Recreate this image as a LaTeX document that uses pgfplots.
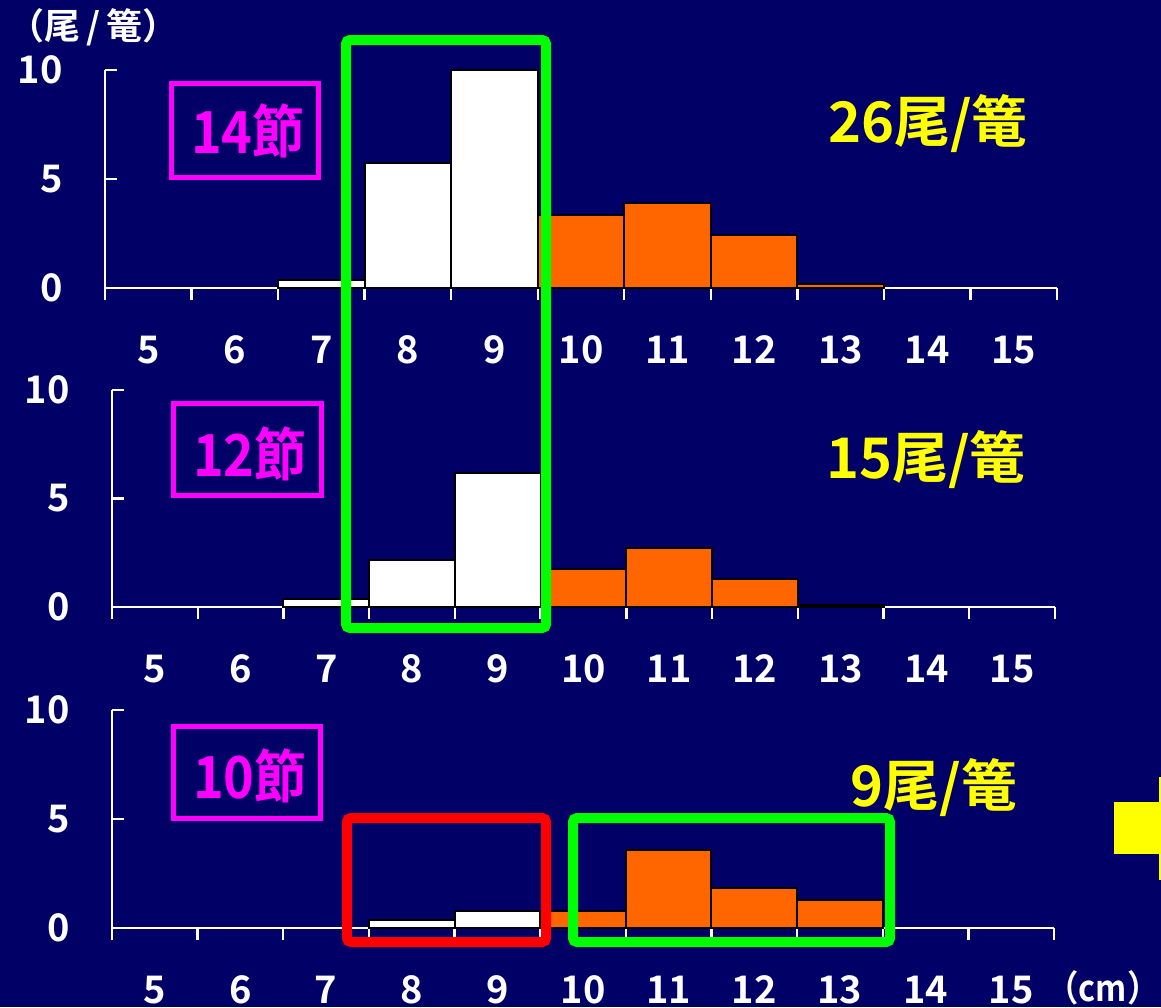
\documentclass[border=0pt]{standalone}
\usepackage{pgfplots}
\pgfplotsset{compat=1.18}
\usepackage{graphicx}
\usepackage{fontspec}
\setmainfont{Noto Sans CJK JP}[BoldFont={* Bold}]
\definecolor{bg}{RGB}{0,0,102}
\definecolor{barorange}{RGB}{255,102,0}
\definecolor{boxgreen}{RGB}{0,255,0}
\definecolor{boxmag}{RGB}{255,0,255}
\definecolor{lblyellow}{RGB}{255,255,0}
\pgfplotsset{
  panel/.style={
    scale only axis,
    anchor=south west,
    xmin=4.5, xmax=15.5, ymin=0, ymax=10,
    axis x line=bottom, axis y line=left,
    axis line style={white, line width=1.2pt, -},
    every tick/.style={white, line width=1.2pt},
    tick align=inside,
    major tick length=6pt,
    xtick={4.5,5.5,...,15.5},
    xticklabels={},
    x tick style={yshift=-6pt},
    extra x ticks={5,6,7,8,9,10,11,12,13,14,15},
    extra x tick style={major tick length=0pt, tick style={draw=none},
      xticklabel style={anchor=center, yshift=-31pt}},
    ytick={0,5,10},
    yticklabel style={anchor=east, inner sep=0pt, xshift=-21pt},
    ticklabel style={font=\fontsize{19}{19}\selectfont\bfseries, text=white},
    /pgf/number format/assume math mode=true,
    clip=false,
  },
  wbar/.style={ybar, bar width=1, bar shift=0pt, fill=white, draw=black, line width=1pt},
  obar/.style={ybar, bar width=1, bar shift=0pt, fill=barorange, draw=black, line width=1pt},
}
\begin{document}
\begin{tikzpicture}
\fill[bg] (0,0) rectangle (580.5pt,-503.5pt);
\path[use as bounding box] (0,0) rectangle (580.5pt,-503.5pt);

% top panel
\begin{axis}[panel, at={(52.5pt,-144pt)}, width=476pt, height=109pt]
\addplot[wbar] coordinates {(7,0.37) (8,5.73) (9,10)};
\addplot[obar] coordinates {(10,3.35) (11,3.9) (12,2.43) (13,0.18)};
\end{axis}

% middle panel
\begin{axis}[panel, at={(56pt,-303.5pt)}, width=471.5pt, height=108.5pt]
\addplot[wbar] coordinates {(7,0.35) (8,2.17) (9,6.17)};
\addplot[obar] coordinates {(10,1.75) (11,2.7) (12,1.29) (13,0.09)};
\end{axis}

% bottom panel
\begin{axis}[panel, at={(56pt,-464pt)}, width=471pt, height=109pt]
\addplot[wbar] coordinates {(8,0.37) (9,0.78)};
\addplot[obar] coordinates {(10,0.78) (11,3.6) (12,1.83) (13,1.28)};
\end{axis}

\begin{scope}[x=0.5pt, y=-0.5pt]
% overlay boxes
\draw[boxgreen, line width=5pt, rounded corners=2pt] (346,40) rectangle (546,628);
\draw[red, line width=5pt, rounded corners=2pt] (347,818) rectangle (546,942);
\draw[boxgreen, line width=5pt, rounded corners=2pt] (573,818) rectangle (890,942);
% magenta boxes
\draw[boxmag, line width=2.5pt] (171,83) rectangle (318,177);
\draw[boxmag, line width=2.5pt] (173,403) rectangle (321,495);
\draw[boxmag, line width=2.5pt] (173,726) rectangle (320,818);
\node[text=boxmag, font=\fontsize{29}{29}\selectfont\bfseries] at (248,131) {\scalebox{0.9}[1]{14節}};
\node[text=boxmag, font=\fontsize{29}{29}\selectfont\bfseries] at (250,454) {\scalebox{0.9}[1]{12節}};
\node[text=boxmag, font=\fontsize{29}{29}\selectfont\bfseries] at (250,776) {\scalebox{0.9}[1]{10節}};
% yellow counts
\node[text=lblyellow, font=\fontsize{28}{28}\selectfont\bfseries] at (928,124) {26尾/篭};
\node[text=lblyellow, font=\fontsize{28}{28}\selectfont\bfseries] at (926,460) {15尾/篭};
\node[text=lblyellow, font=\fontsize{28}{28}\selectfont\bfseries] at (934,788) {9尾/篭};
% units
\node[text=white, font=\fontsize{18}{18}\selectfont\bfseries, anchor=west, inner sep=0pt] at (8,27) {（尾\,/\,篭）};
\node[text=white, font=\fontsize{18}{18}\selectfont\bfseries, anchor=east, inner sep=0pt] at (1160,988) {\scalebox{0.9}[1]{（cm）}};
% yellow arrow (partly visible)
\fill[lblyellow] (1114,802) rectangle (1162,854);
\fill[lblyellow] (1159,777) rectangle (1162,880);
\end{scope}
\end{tikzpicture}
\end{document}
